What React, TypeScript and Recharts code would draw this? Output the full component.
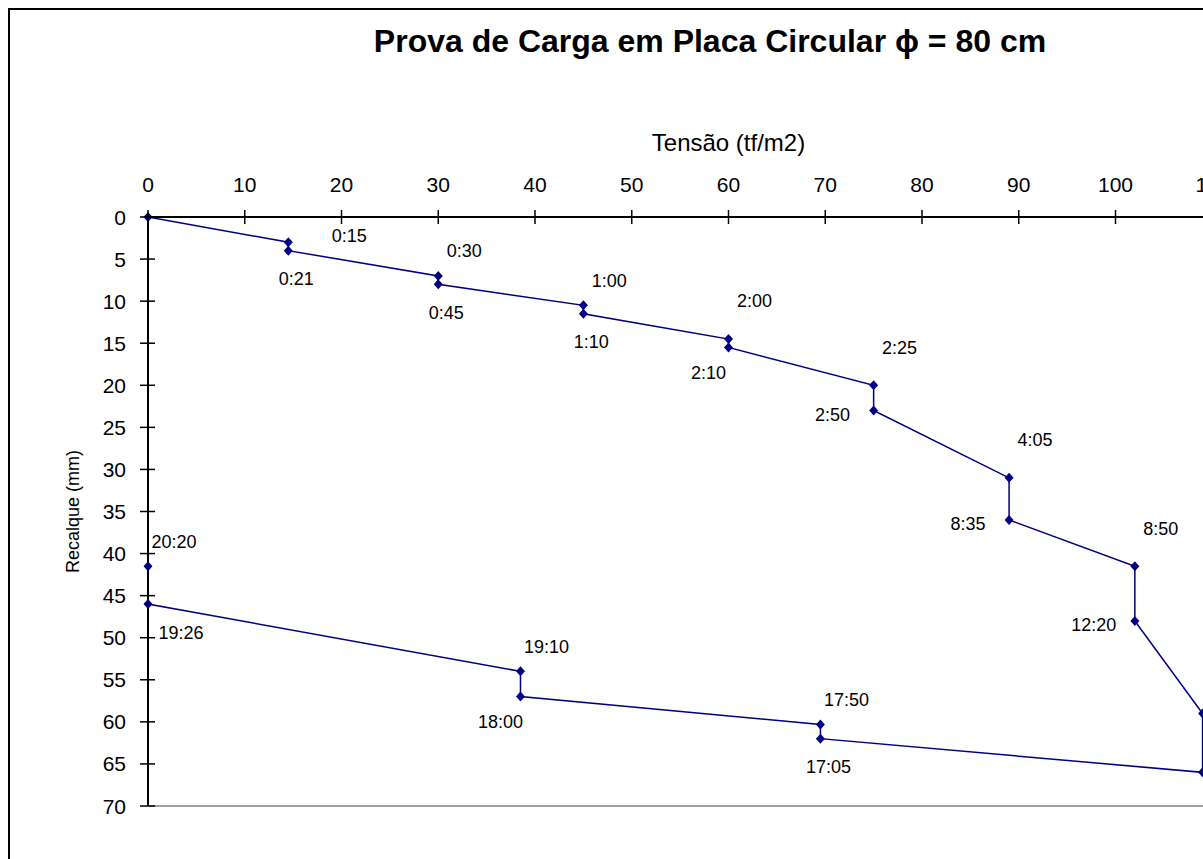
import { LineChart, Line, XAxis, YAxis, ReferenceLine, LabelList } from 'recharts';

// Prova de carga: tensão aplicada x recalque medido, na ordem das leituras
const TENSAO = [0, 14.5, 14.5, 30, 30, 45, 45, 60, 60, 75, 75, 89, 89, 102, 102, 109, 109, 69.5, 69.5, 38.5, 38.5, 0, 0];
const RECALQUE = [0, 3, 4, 7, 8, 10.5, 11.5, 14.5, 15.5, 20, 23, 31, 36, 41.5, 48, 59, 66, 62, 60.3, 57, 54, 46, 41.5];
const HORARIO = ['', '0:15', '0:21', '0:30', '0:45', '1:00', '1:10', '2:00', '2:10', '2:25', '2:50', '4:05', '8:35', '8:50', '12:20', '', '', '17:05', '17:50', '18:00', '19:10', '19:26', '20:20'];
const LABEL_POS = ['none', 'right', 'below', 'above', 'below', 'above', 'below', 'high', 'belowLeft', 'high', 'left', 'high', 'left', 'high', 'left', 'none', 'none', 'below', 'above', 'belowLeft', 'above', 'belowRight', 'above'];

const X_TICKS = [0, 10, 20, 30, 40, 50, 60, 70, 80, 90, 100, 110, 120];
const Y_TICKS = [0, 5, 10, 15, 20, 25, 30, 35, 40, 45, 50, 55, 60, 65, 70];

const FONT = '"Liberation Sans", Arial, sans-serif';
const NAVY = '#000080';
const TICK_SIZE = 6;
const TICK_MARGIN = 2;

const OFFSETS: Record<string, [number, number]> = {
  right: [61, -7],
  below: [8, 28],
  above: [26, -25],
  high: [26, -38],
  belowLeft: [-20, 25],
  left: [-41, 4],
  belowRight: [33, 28],
};

const data = TENSAO.map((t, i) => ({
  tensao: t,
  recalque: RECALQUE[i],
  hora: HORARIO[i],
}));

function XTick({ x, y, payload }: any) {
  const axisY = y + TICK_SIZE + TICK_MARGIN;
  return (
    <g>
      <line x1={x} x2={x} y1={axisY - 7} y2={axisY + 7} stroke="#000" strokeWidth={1.5} />
      <text x={x} y={axisY - 25} textAnchor="middle" fontSize={21} fontFamily={FONT} fill="#000">
        {payload.value}
      </text>
    </g>
  );
}

function YTick({ x, y, payload }: any) {
  const axisX = x + TICK_SIZE + TICK_MARGIN;
  return (
    <g>
      <line x1={axisX - 8} x2={axisX + 7} y1={y} y2={y} stroke="#000" strokeWidth={1.5} />
      <text x={axisX - 22} y={y} dy="0.36em" textAnchor="end" fontSize={21} fontFamily={FONT} fill="#000">
        {payload.value}
      </text>
    </g>
  );
}

function Diamond({ cx, cy, index }: any) {
  if (cx == null || cy == null) return <g key={index} />;
  return (
    <path
      key={index}
      d={`M${cx},${cy - 5}L${cx + 4.5},${cy}L${cx},${cy + 5}L${cx - 4.5},${cy}Z`}
      fill={NAVY}
    />
  );
}

function TimeLabel(props: any) {
  const { value } = props;
  if (!value) return null;
  const idx = props.index ?? HORARIO.indexOf(value);
  const pos = LABEL_POS[idx] ?? 'above';
  const off = OFFSETS[pos];
  if (!off) return null;
  const px = props.x ?? props.viewBox?.x;
  const py = props.y ?? props.viewBox?.y;
  return (
    <text
      x={px + off[0]}
      y={py + off[1]}
      dy="0.36em"
      textAnchor="middle"
      fontSize={18}
      fontFamily={FONT}
      fill="#000"
    >
      {value}
    </text>
  );
}

export default function App() {
  return (
    <div style={{ position: 'fixed', inset: 0, overflow: 'hidden', background: '#fff' }}>
      <div
        style={{
          position: 'absolute',
          left: 8,
          top: 8,
          width: 1500,
          height: 1000,
          border: '2px solid #000',
          background: '#fff',
        }}
      >
        <div
          style={{
            position: 'absolute',
            left: 250,
            top: 13,
            width: 900,
            textAlign: 'center',
            fontFamily: FONT,
            fontWeight: 'bold',
            fontSize: 32,
            color: '#000',
          }}
        >
          Prova de Carga em Placa Circular ϕ = 80 cm
        </div>
        <LineChart
          width={1320}
          height={860}
          data={data}
          margin={{ top: 157, right: 21, bottom: 64, left: 50 }}
        >
          <XAxis
            dataKey="tensao"
            type="number"
            orientation="top"
            domain={[0, 120]}
            ticks={X_TICKS}
            height={50}
            tickSize={TICK_SIZE}
            tickMargin={TICK_MARGIN}
            tickLine={false}
            axisLine={{ stroke: '#000', strokeWidth: 2 }}
            tick={<XTick />}
            interval={0}
            label={{
              value: 'Tensão (tf/m2)',
              position: 'top',
              offset: 16,
              style: { fontSize: 24, fontFamily: FONT, fill: '#000' },
            }}
          />
          <YAxis
            dataKey="recalque"
            type="number"
            reversed
            domain={[0, 70]}
            ticks={Y_TICKS}
            width={88}
            tickSize={TICK_SIZE}
            tickMargin={TICK_MARGIN}
            tickLine={false}
            axisLine={{ stroke: '#000', strokeWidth: 2 }}
            tick={<YTick />}
            interval={0}
            label={{
              value: 'Recalque (mm)',
              angle: -90,
              position: 'insideLeft',
              offset: 13,
              style: { textAnchor: 'middle', fontSize: 18, fontFamily: FONT, fill: '#000' },
            }}
          />
          <ReferenceLine y={70} stroke="#a0a0a0" strokeWidth={2} />
          <ReferenceLine x={120} stroke="#a0a0a0" strokeWidth={2} />
          <Line
            type="linear"
            dataKey="recalque"
            stroke={NAVY}
            strokeWidth={1.5}
            dot={<Diamond />}
            activeDot={false}
            isAnimationActive={false}
          >
            <LabelList dataKey="hora" content={<TimeLabel />} />
          </Line>
        </LineChart>
      </div>
    </div>
  );
}
